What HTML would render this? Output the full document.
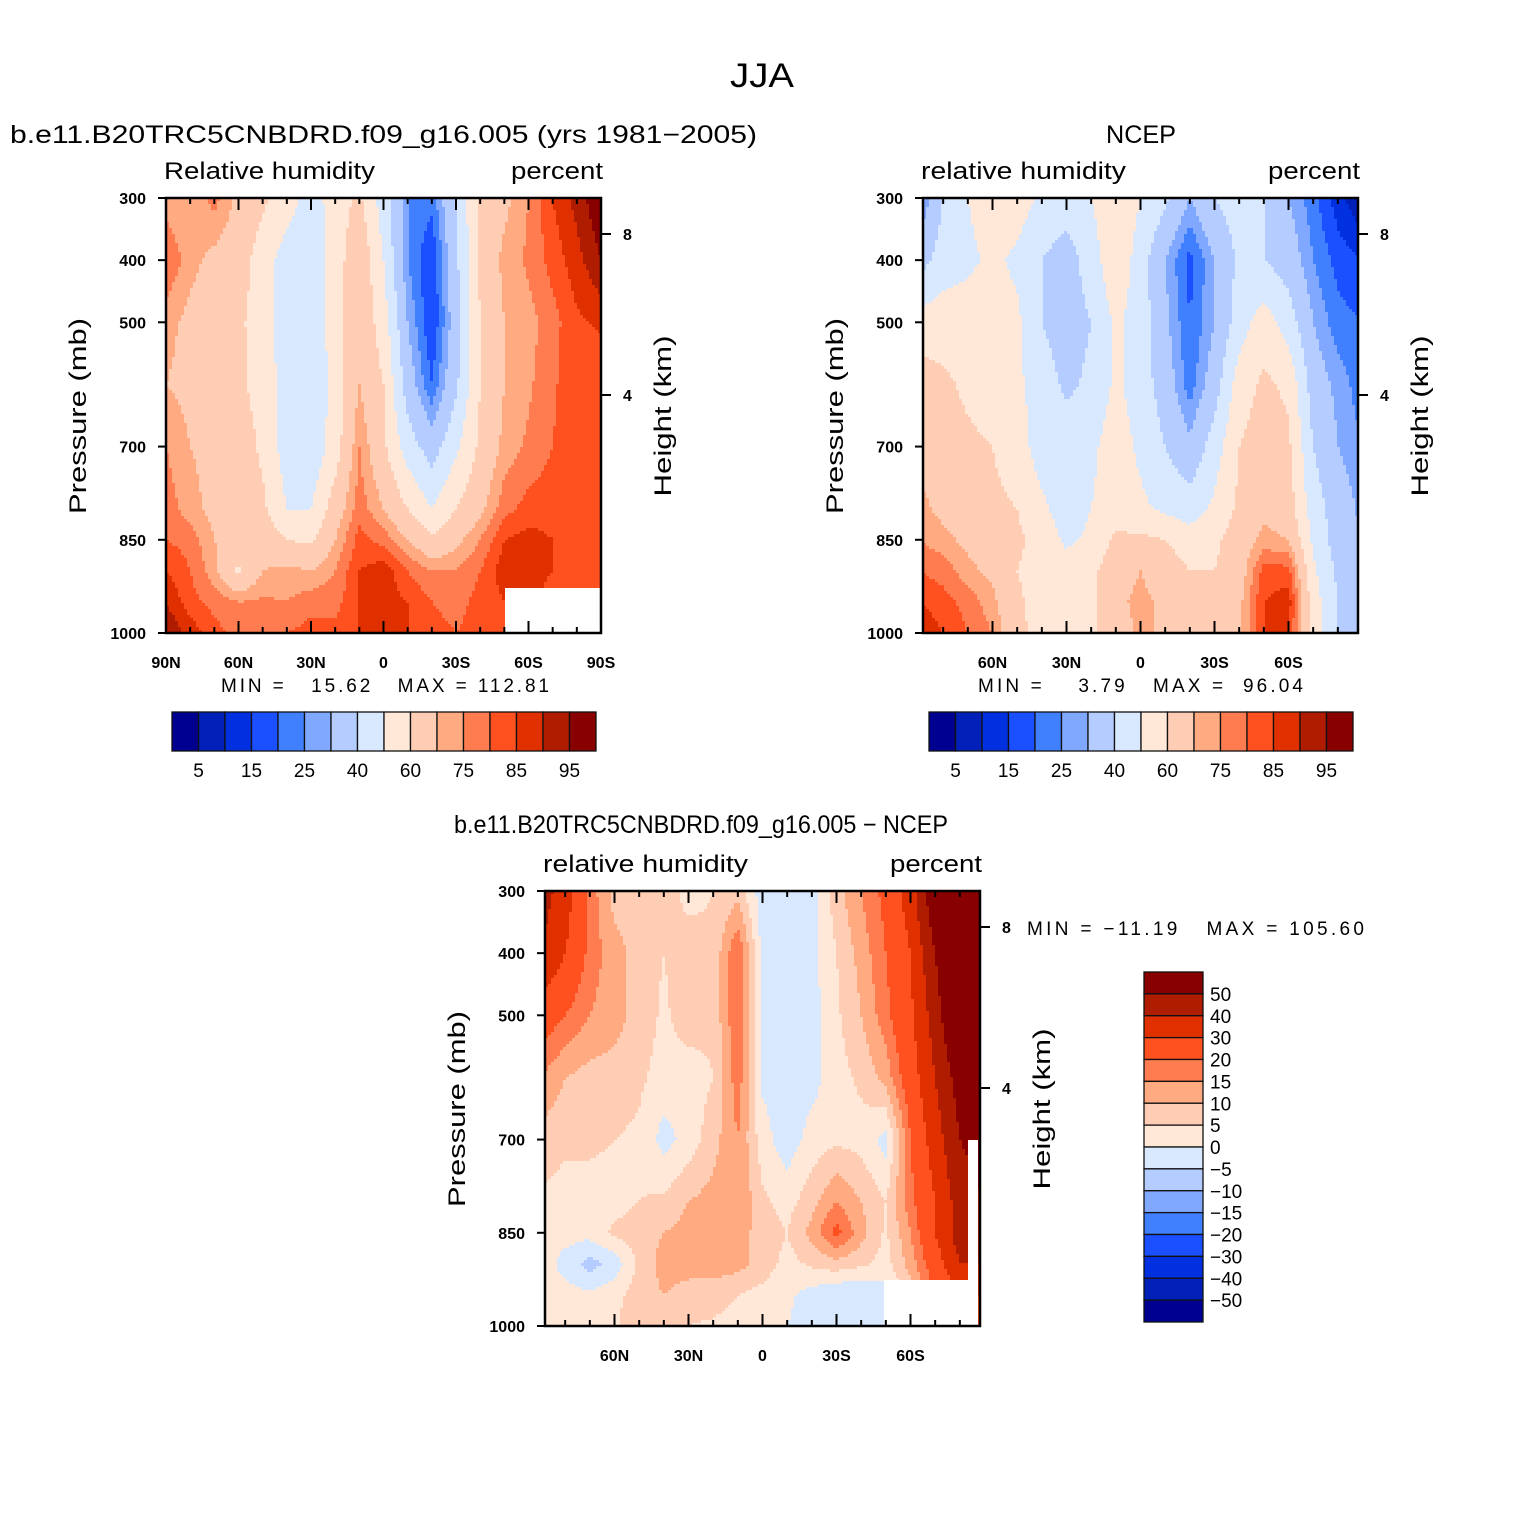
<!DOCTYPE html>
<html><head><meta charset="utf-8">
<style>
html,body{margin:0;padding:0;background:#fff;}
svg{display:block;font-family:"Liberation Sans",sans-serif;}
</style></head>
<body>
<svg id="fig" width="1525" height="1525" viewBox="0 0 1525 1525" xmlns="http://www.w3.org/2000/svg">
<rect width="1525" height="1525" fill="#fff"/>
<text x="762" y="87" font-size="34" text-anchor="middle" textLength="64" lengthAdjust="spacingAndGlyphs">JJA</text>
<g id="layer"></g>
</svg>
<script>
// ---- shared axes data ----
const latCols = [90,80,70,60,50,40,30,20,10,0,-10,-20,-30,-40,-50,-60,-70,-80,-90];
const presRows = [300,400,500,600,700,800,850,900,950,1000];
const absLevels = [5,10,15,20,25,30,40,50,60,70,75,80,85,90,95];
const absLabels = ["5","15","25","40","60","75","85","95"];
const diffLevels = [-50,-40,-30,-20,-15,-10,-5,0,5,10,15,20,30,40,50];
const diffLabels = ["50","40","30","20","15","10","5","0","\u22125","\u221210","\u221215","\u221220","\u221230","\u221240","\u221250"];
const palette = ["#000090","#0020b8","#0030e0","#1a50ff","#4080ff","#80a8ff","#b4ccff","#d8e8ff","#ffe8d8","#ffccb4","#ffaa80","#ff7c50","#ff5020","#e03000","#b01c00","#880000"];

// ---- panel 1: model RH ----
const modelRH = [
[72,70,77,68,62,55,45,55,62,45,25,22,40,62,68,75,85,92,100],
[80,72,68,65,55,45,42,55,68,50,25,15,38,62,72,76,82,88,95],
[72,68,65,62,55,45,42,55,68,55,30,15,35,60,70,73,78,84,86],
[70,68,65,62,56,45,40,55,70,60,35,20,38,60,70,74,79,84,80],
[75,70,68,66,58,45,42,55,75,62,45,35,48,62,72,76,80,84,80],
[78,72,68,66,62,50,50,65,78,70,60,50,60,68,78,82,83,82,80],
[80,78,70,68,66,60,58,70,82,78,70,62,68,75,85,87,85,83,80],
[85,80,72,58,70,72,70,75,85,88,80,75,75,80,88,90,85,85,80],
[90,82,78,75,76,75,78,78,85,88,85,80,78,82,85,87,80,80,80],
[95,88,82,78,80,80,82,82,85,85,85,82,80,82,82,82,80,80,80]];
// ---- panel 2: NCEP RH ----
const ncepRH = [
[22,40,50,55,55,48,45,50,58,50,42,30,40,45,40,30,22,12,5],
[35,45,48,52,48,40,35,45,58,45,30,18,30,42,40,35,25,18,15],
[55,55,55,55,52,40,35,40,52,45,32,20,30,45,55,45,30,22,20],
[65,62,58,55,52,45,38,42,52,45,35,22,35,55,62,58,35,28,22],
[68,65,62,60,55,45,45,48,55,48,40,32,45,60,65,62,40,30,25],
[72,68,65,62,60,52,45,50,55,52,48,45,52,62,68,65,45,35,28],
[75,72,68,65,62,56,48,52,62,62,60,55,58,65,72,70,48,35,30],
[80,78,72,68,60,55,55,58,66,70,65,60,60,65,82,82,52,38,30],
[85,82,78,72,62,55,55,58,68,72,68,62,60,68,85,88,55,40,30],
[90,85,80,75,62,58,55,58,65,72,68,62,60,68,85,85,55,40,30]];
// ---- panel 3: difference ----
const diffRH = [
[45,35,18,8,6,8,3,5,8,-3,-5,-2,8,15,22,35,60,80,90],
[40,30,18,12,8,5,8,6,20,-2,-2,-2,5,12,20,30,50,70,80],
[25,20,15,12,8,4,8,6,20,-2,-2,-2,4,10,18,28,45,65,70],
[15,10,8,8,6,3,2,5,18,-1,-2,-2,3,6,12,25,40,55,60],
[8,6,6,5,4,-2,2,8,15,2,-3,2,4,3,-2,20,35,50,55],
[4,3,3,3,5,6,10,12,15,6,3,8,15,10,5,18,30,45,50],
[2,2,2,6,8,10,12,10,12,8,5,12,22,12,4,15,30,45,50],
[3,-2,-7,-3,6,12,12,12,12,8,3,6,8,6,3,12,25,40,40],
[3,2,1,3,8,10,8,8,5,3,1,-2,-5,-5,-2,8,20,30,30],
[3,2,2,4,10,8,5,4,2,1,0,-2,-5,-3,0,5,15,25,25]];

const NS="http://www.w3.org/2000/svg";
const layer=document.getElementById('layer');
function mk(tag,attrs,parent){const e=document.createElementNS(NS,tag);for(const k in attrs)e.setAttribute(k,attrs[k]);(parent||layer).appendChild(e);return e;}
function txt(x,y,s,size,anchor,parent,extra){const t=mk('text',Object.assign({x:x,y:y,'font-size':size,'text-anchor':anchor||'start'},extra||{}),parent);t.textContent=s;return t;}

function interp(grid,lat,p){
  let ci=0;for(let i=0;i<latCols.length-1;i++){if(lat<=latCols[i]&&lat>=latCols[i+1]){ci=i;break;}}
  const fx=(latCols[ci]-lat)/(latCols[ci]-latCols[ci+1]);
  let ri=0;for(let j=0;j<presRows.length-1;j++){if(p>=presRows[j]&&p<=presRows[j+1]){ri=j;break;}}
  const fy=(p-presRows[ri])/(presRows[ri+1]-presRows[ri]);
  const a=grid[ri][ci],b=grid[ri][ci+1],c=grid[ri+1][ci],d=grid[ri+1][ci+1];
  return a*(1-fx)*(1-fy)+b*fx*(1-fy)+c*(1-fx)*fy+d*fx*fy;
}
function classOf(v,levels){let k=0;while(k<levels.length&&v>=levels[k])k++;return k;}

function panel(o){
  const g=mk('g',{});
  
  
  const X0=o.x0,X1=o.x0+435,Y0=o.y0,Y1=o.y0+435;
  const xOfLat=lat=>o.xc-lat*o.pxPerDeg;
  const latOfX=x=>(o.xc-x)/o.pxPerDeg;
  const yOfP=p=>Y0+(p-300)/700*435;
  const pOfY=y=>300+(y-Y0)/435*700;
  const fg=mk('g',{'shape-rendering':'crispEdges'},g);
  
  
  const step=3;
  for(let y=Y0;y<Y1;y+=step){
    const p=pOfY(y+step/2);
    let runStart=X0,runCls=-1;
    for(let x=X0;x<=X1;x+=step){
      let cls=-2;
      if(x<X1){const lat=Math.max(-90,Math.min(90,latOfX(x+step/2)));cls=classOf(interp(o.data,lat,p),o.levels);}
      if(cls!==runCls){
        if(runCls>=0){const r=mk('rect',{x:runStart,y:y,width:Math.min(x,X1)-runStart,height:Math.min(step,Y1-y),fill:palette[runCls]},fg);
          
          }
        runStart=x;runCls=cls;
      }
    }
  }
  (o.masks||[]).forEach(m=>{const r=mk('rect',{x:m[0],y:m[1],width:m[2],height:m[3],fill:'#fff'},g);
    
    });
  const fr=mk('rect',{x:X0,y:Y0,width:435,height:435,fill:'none',stroke:'#000','stroke-width':2.5},g);
  
  
  for(let lat=90;lat>=-90;lat-=10){
    const x=xOfLat(lat);if(x<X0-0.5||x>X1+0.5)continue;
    const major=lat%30===0, len=major?12:6;
    mk('line',{x1:x,y1:Y1,x2:x,y2:Y1-len,stroke:'#000','stroke-width':2},g);
    mk('line',{x1:x,y1:Y0,x2:x,y2:Y0+len,stroke:'#000','stroke-width':2},g);
  }
  o.xTicks.forEach(t=>{const l=txt(xOfLat(t[0]),Y1+35,t[1],16,'middle',g,{'font-weight':'bold'});
    
    });
  [300,400,500,700,850,1000].forEach(p=>{const y=yOfP(p);
    mk('line',{x1:X0-8,y1:y,x2:X0,y2:y,stroke:'#000','stroke-width':2},g);
    const l=txt(X0-20,y+6,String(p),16,'end',g,{'font-weight':'bold'});
    
    });
  [[8,36],[4,197]].forEach(h=>{const y=Y0+h[1];
    mk('line',{x1:X1,y1:y,x2:X1+10,y2:y,stroke:'#000','stroke-width':2},g);
    const l=txt(X1+22,y+6,String(h[0]),16,'start',g,{'font-weight':'bold'});
    
    });
  let t=txt(X0-2,Y0-19,o.varName,24,'start',g,{textLength:o.varLen,lengthAdjust:'spacingAndGlyphs'});
  
  
  t=txt(X1+2-92,Y0-19,'percent',24,'start',g,{textLength:92,lengthAdjust:'spacingAndGlyphs'});
  
  
  t=txt(0,0,'Pressure (mb)',24,'middle',g,{transform:`translate(${X0-80},${Y0+218}) rotate(-90)`,textLength:196,lengthAdjust:'spacingAndGlyphs'});
  
  
  t=txt(0,0,'Height (km)',24,'middle',g,{transform:`translate(${X1+70},${Y0+218}) rotate(-90)`,textLength:161,lengthAdjust:'spacingAndGlyphs'});
  
  
}

function hbar(x0,y0,w,labelsArr,name){
  const g=mk('g',{});
  
  
  const bw=w/palette.length;
  palette.forEach((c,i)=>{const r=mk('rect',{x:x0+i*bw,y:y0,width:bw,height:39,fill:c,stroke:'#111','stroke-width':1.3},g);
    
    });
  labelsArr.forEach((s,i)=>{const l=txt(x0+(2*i+1)*bw,y0+65,s,19,'middle',g);
    
    });
}
function vbar(x0,y0,h,name){
  const g=mk('g',{});
  
  
  const bh=h/palette.length;
  for(let i=0;i<palette.length;i++){const r=mk('rect',{x:x0,y:y0+i*bh,width:59,height:bh,fill:palette[palette.length-1-i],stroke:'#111','stroke-width':1.3},g);
    
    }
  diffLabels.forEach((s,i)=>{const l=txt(x0+66,y0+(i+1)*bh+7,s,19,'start',g);
    
    });
}
const ticks90=[[90,'90N'],[60,'60N'],[30,'30N'],[0,'0'],[-30,'30S'],[-60,'60S'],[-90,'90S']];
const ticks60=[[60,'60N'],[30,'30N'],[0,'0'],[-30,'30S'],[-60,'60S']];

panel({name:'model-panel',x0:166,y0:198,xc:383.5,pxPerDeg:435/180,data:modelRH,levels:absLevels,xTicks:ticks90,varName:'Relative humidity',varLen:211,masks:[[505,588,95,45]]});
panel({name:'ncep-panel',x0:923,y0:198,xc:1140.5,pxPerDeg:74/30,data:ncepRH,levels:absLevels,xTicks:ticks60,varName:'relative humidity',varLen:205,masks:[]});
panel({name:'diff-panel',x0:545,y0:891,xc:762.5,pxPerDeg:74/30,data:diffRH,levels:diffLevels,xTicks:ticks60,varName:'relative humidity',varLen:205,masks:[[884,1280,94,46],[968,1140,10,140]]});

let s;
s=txt(10,143,'b.e11.B20TRC5CNBDRD.f09_g16.005 (yrs 1981\u22122005)',25,'start',null,{textLength:747,lengthAdjust:'spacingAndGlyphs'});


s=txt(1106,143,'NCEP',25,'start',null,{textLength:70,lengthAdjust:'spacingAndGlyphs'});


s=txt(454,833,'b.e11.B20TRC5CNBDRD.f09_g16.005 \u2212 NCEP',25,'start',null,{textLength:494,lengthAdjust:'spacingAndGlyphs'});


s=txt(221,692,'MIN =   15.62   MAX = 112.81',19,'start',null,{textLength:328,lengthAdjust:'spacing',style:'white-space:pre'});


s=txt(978,692,'MIN =    3.79   MAX =  96.04',19,'start',null,{textLength:325,lengthAdjust:'spacing',style:'white-space:pre'});


s=txt(1027,935,'MIN = \u221211.19   MAX = 105.60',19,'start',null,{textLength:337,lengthAdjust:'spacing',style:'white-space:pre'});



hbar(172,712,424,absLabels,'model-colorbar');
hbar(929,712,424,absLabels,'ncep-colorbar');
vbar(1144,972,350,'diff-colorbar');
</script>
</body></html>
